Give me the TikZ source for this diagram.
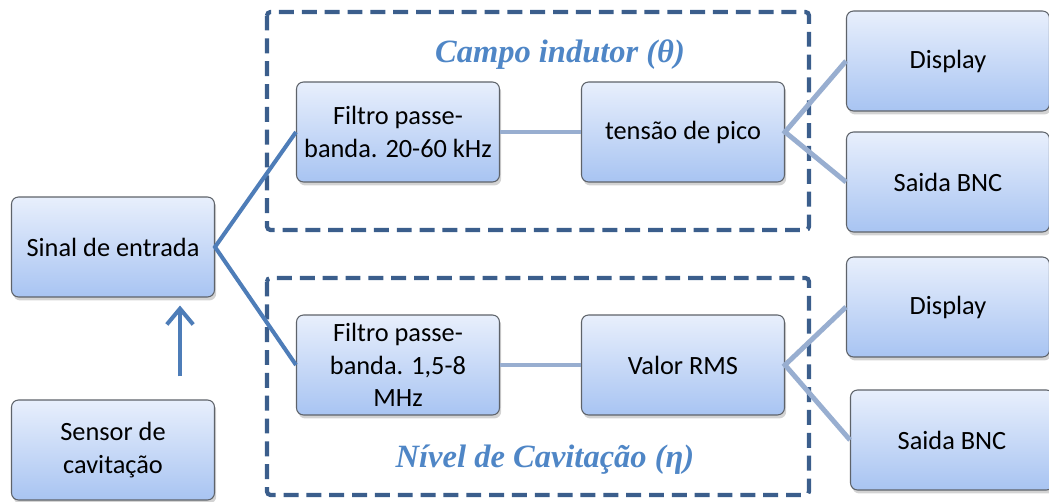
\documentclass[tikz,border=0pt]{standalone}
\usepackage{fontspec}
\setmainfont{Carlito}
\newfontfamily\titlefont{Liberation Serif}
\usetikzlibrary{shadows,arrows.meta}

\definecolor{boxtop}{HTML}{E8EFFC}
\definecolor{boxbot}{HTML}{A8C4F2}
\definecolor{boxline}{HTML}{5E636A}
\definecolor{framecol}{HTML}{3B5E8C}
\definecolor{linkdark}{HTML}{4E7DB8}
\definecolor{linklight}{HTML}{98AED0}
\definecolor{titlecol}{HTML}{4F86C6}

\tikzset{
	blk/.style={draw=boxline, line width=0.6pt, rounded corners=4pt,
		top color=boxtop, bottom color=boxbot,
		minimum width=4.06cm, minimum height=2cm, align=center,
		font=\fontsize{15}{18.3}\selectfont,
		drop shadow={shadow xshift=1pt, shadow yshift=-2pt, opacity=0.35}},
	frame/.style={draw=framecol, line width=2.4pt, dash pattern=on 8.5pt off 4.5pt, rounded corners=2pt},
	heading/.style={text=titlecol, font=\titlefont\bfseries\itshape\fontsize{18.5}{22}\selectfont},
	darklink/.style={draw=linkdark, line width=2.3pt},
	lightlink/.style={draw=linklight, line width=2.8pt},
}

\begin{document}
\begin{tikzpicture}[x=0.02cm, y=-0.02cm]
	\useasboundingbox (0,0) rectangle (1049,502);
	%Input
	\node[blk] (sinal) at (113,247) {Sinal de entrada};
	\node[blk] (sensor) at (113,450) {Sensor de\\cavitação};
	\coordinate (arrx) at (180,0);
	\draw[darklink, -{Straight Barb[length=9pt, width=15pt]}, shorten <=0.46cm, shorten >=0.16cm]
		(sensor.north -| arrx) -- (sinal.south -| arrx);

	%Campo indutor
	\draw[frame] (267,12) rectangle (809,230);
	\node[heading] (campo) at (560,55) {Campo indutor (θ)};
	\node[blk] (filtroA) at (398,132) {Filtro passe-\\banda. 20-60 kHz};
	\node[blk] (pico) at (683,132) {tensão de pico};
	\node[blk] (dispA) at (948,61) {Display};
	\node[blk] (bncA) at (948,182) {Saida BNC};

	%Nivel de cavitacao
	\draw[frame] (267,278) rectangle (809,495);
	\node[heading] (nivel) at (545,460) {Nível de Cavitação (η)};
	\node[blk] (filtroB) at (398,365) {Filtro passe-\\banda. 1,5-8\\MHz};
	\node[blk] (rms) at (683,365) {Valor RMS};
	\node[blk] (dispB) at (948,307) {Display};
	\node[blk] (bncB) at (952,440) {Saida BNC};

	%Links
	\draw[darklink] (filtroA.west) -- (sinal.east) -- (filtroB.west);
	\draw[lightlink] (filtroA) -- (pico);
	\draw[lightlink] (dispA.west) -- (pico.east) -- (bncA.west);
	\draw[lightlink] (filtroB) -- (rms);
	\draw[lightlink] (dispB.west) -- (rms.east) -- (bncB.west);
\end{tikzpicture}
\end{document}
